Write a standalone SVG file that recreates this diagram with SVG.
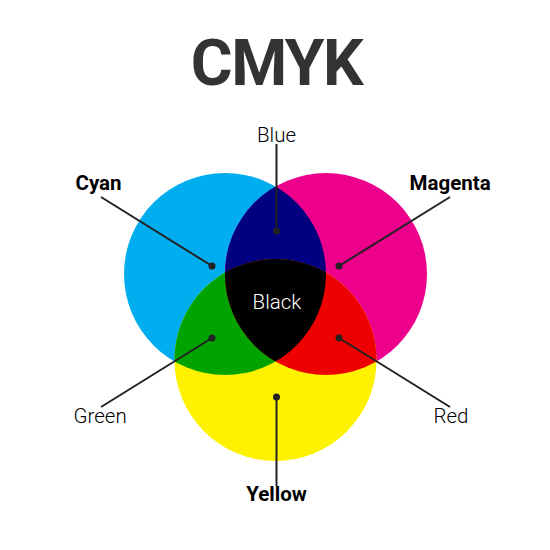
<svg xmlns="http://www.w3.org/2000/svg" width="550" height="550" viewBox="0 0 550 550">
<style>
.lbl{font-family:Roboto,"Liberation Sans",sans-serif;font-size:20.5px;fill:#000;}
.thin{font-weight:300;}
.bold{font-weight:700;}
.ln{stroke:#222;stroke-width:2;fill:none;}
.dot{fill:#222;}
</style>
<defs>
<circle id="cC" cx="225" cy="274" r="101"/>
<circle id="cM" cx="326" cy="274" r="101"/>
<circle id="cY" cx="275.5" cy="360" r="101"/>
<clipPath id="clC"><use href="#cC"/></clipPath>
<clipPath id="clM"><use href="#cM"/></clipPath>
<clipPath id="clY"><use href="#cY"/></clipPath>
</defs>
<rect width="550" height="550" fill="#fff"/>
<text x="276.5" y="85" text-anchor="middle" font-family="Roboto,'Liberation Sans',sans-serif" font-weight="700" font-size="64" letter-spacing="-1.5" fill="#333">CMYK</text>
<g id="cyan"><use href="#cC" fill="#00ADEF"/></g>
<g id="magenta"><use href="#cM" fill="#EC008C"/></g>
<g id="yellow"><use href="#cY" fill="#FFF200"/></g>
<g id="blue" clip-path="url(#clC)"><use href="#cM" fill="#000080"/></g>
<g id="green" clip-path="url(#clC)"><use href="#cY" fill="#00A300"/></g>
<g id="red" clip-path="url(#clM)"><use href="#cY" fill="#EE0000"/></g>
<g id="black" clip-path="url(#clC)"><g clip-path="url(#clM)"><use href="#cY" fill="#000"/></g></g>
<g id="connectors">
<line class="ln" x1="101" y1="197" x2="212" y2="266"/>
<line class="ln" x1="450" y1="197" x2="339" y2="266"/>
<line class="ln" x1="101" y1="407" x2="212" y2="338"/>
<line class="ln" x1="450" y1="407" x2="339" y2="338"/>
<line class="ln" x1="276.5" y1="144" x2="276.5" y2="231"/>
<line class="ln" x1="276.5" y1="397" x2="276.5" y2="486"/>
<circle class="dot" cx="212" cy="266" r="3.5"/>
<circle class="dot" cx="339" cy="266" r="3.5"/>
<circle class="dot" cx="212" cy="338" r="3.5"/>
<circle class="dot" cx="339" cy="338" r="3.5"/>
<circle class="dot" cx="276.5" cy="231" r="3.5"/>
<circle class="dot" cx="276.5" cy="397" r="3.5"/>
</g>
<text class="lbl bold" x="75.5" y="190">Cyan</text>
<text class="lbl bold" x="409.5" y="190">Magenta</text>
<text class="lbl thin" x="73.5" y="423">Green</text>
<text class="lbl thin" x="433.5" y="423">Red</text>
<text class="lbl thin" x="276.5" y="141.5" text-anchor="middle">Blue</text>
<text class="lbl thin" x="277" y="309" text-anchor="middle" style="fill:#fff">Black</text>
<text class="lbl bold" x="276.5" y="501" text-anchor="middle">Yellow</text>
</svg>
